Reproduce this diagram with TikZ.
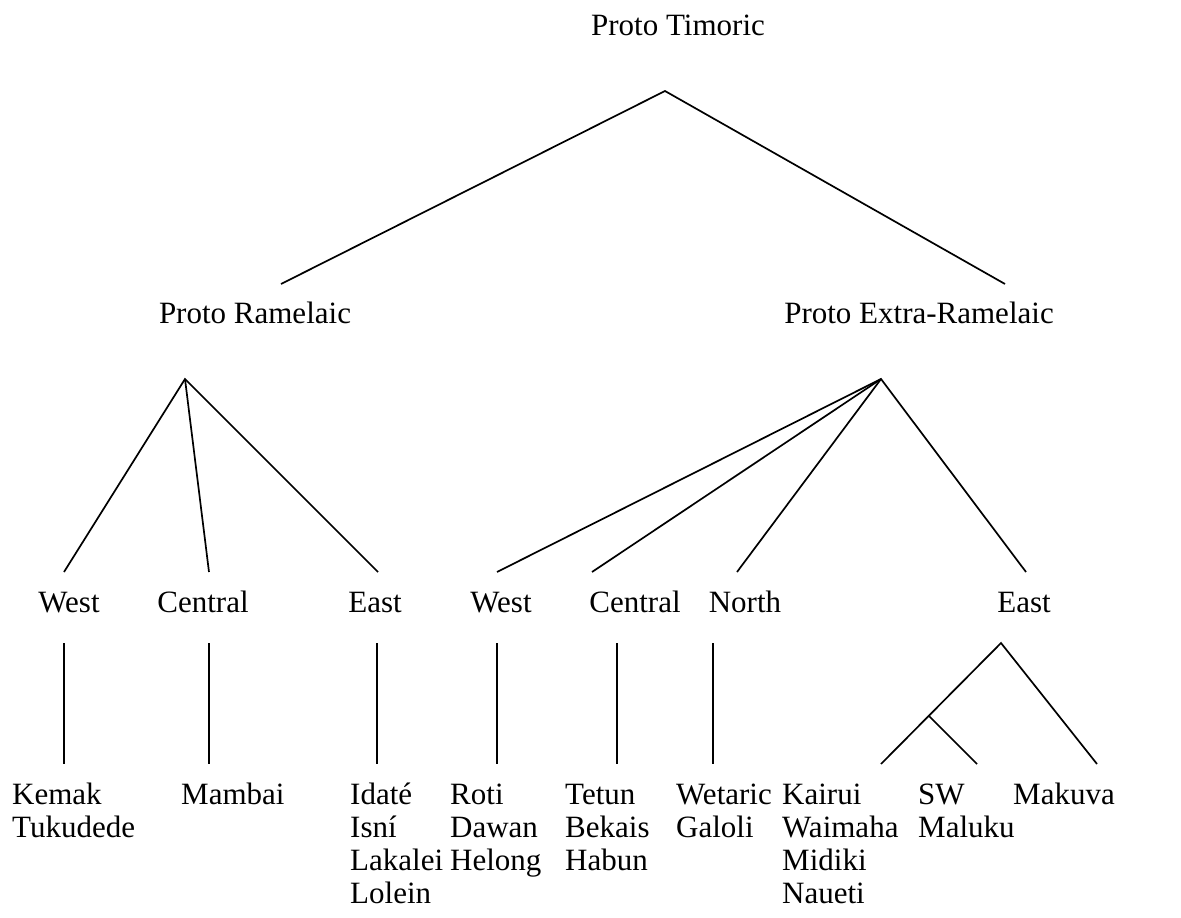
\documentclass[tikz,border=0pt]{standalone}
\usepackage{fontspec}
\setmainfont{Liberation Serif}
\begin{document}
\begin{tikzpicture}[x=1pt,y=-1pt,
  lbl/.style={inner sep=0pt,font=\fontsize{31}{33}\selectfont},
  leaf/.style={lbl,anchor=base west},
  edge/.style={line width=1.7pt,line cap=butt}]
\useasboundingbox (0,0) rectangle (1181,918);
% labels
\node[lbl,anchor=base] (pt) at (678,35) {Proto Timoric};
\node[lbl,anchor=base] (pr) at (255,323) {Proto Ramelaic};
\node[lbl,anchor=base] (per) at (919,323) {Proto Extra-Ramelaic};
\node[lbl,anchor=base] (rw) at (69,612) {West};
\node[lbl,anchor=base] (rc) at (203,612) {Central};
\node[lbl,anchor=base] (re) at (375,612) {East};
\node[lbl,anchor=base] (ew) at (501,612) {West};
\node[lbl,anchor=base] (ec) at (635,612) {Central};
\node[lbl,anchor=base] (en) at (745,612) {North};
\node[lbl,anchor=base] (ee) at (1024,612) {East};
\newcommand{\leaflines}[1]{\begin{tabular}[t]{@{}l@{}}#1\end{tabular}}
\node[leaf] (l1) at (12,804) {\leaflines{Kemak\\Tukudede}};
\node[leaf] (l2) at (181,804) {\leaflines{Mambai}};
\node[leaf] (l3) at (350,804) {\leaflines{Idaté\\Isní\\Lakalei\\Lolein}};
\node[leaf] (l4) at (450,804) {\leaflines{Roti\\Dawan\\Helong}};
\node[leaf] (l5) at (565,804) {\leaflines{Tetun\\Bekais\\Habun}};
\node[leaf] (l6) at (676,804) {\leaflines{Wetaric\\Galoli}};
\node[leaf] (l7) at (782,804) {\leaflines{Kairui\\Waimaha\\Midiki\\Naueti}};
\node[leaf] (l8) at (918,804) {\leaflines{SW\\Maluku}};
\node[leaf] (l9) at (1013,804) {\leaflines{Makuva}};
% junction coordinates
\coordinate (ptA) at (665,91);
\coordinate (prT) at (281,284);
\coordinate (perT) at (1005,284);
\coordinate (prA) at (185,379);
\coordinate (perA) at (881,379);
\coordinate (rwT) at (64,572);
\coordinate (rcT) at (209,572);
\coordinate (reT) at (378,572);
\coordinate (ewT) at (497,572);
\coordinate (ecT) at (592,572);
\coordinate (enT) at (737,572);
\coordinate (eeT) at (1026,572);
\coordinate (rwB) at (64,643);
\coordinate (rcB) at (209,643);
\coordinate (reB) at (377,643);
\coordinate (ewB) at (497,643);
\coordinate (ecB) at (617,643);
\coordinate (enB) at (713,643);
\coordinate (eeA) at (1001,643);
\coordinate (l1T) at (64,764);
\coordinate (l2T) at (209,764);
\coordinate (l3T) at (377,764);
\coordinate (l4T) at (497,764);
\coordinate (l5T) at (617,764);
\coordinate (l6T) at (713,764);
\coordinate (l7T) at (881,764);
\coordinate (l8T) at (977,764);
\coordinate (l9T) at (1097,764);
\coordinate (kwJ) at (929,716);
% connectors
\draw[edge] (prT) -- (ptA) -- (perT);
\draw[edge] (rwT) -- (prA) -- (reT);
\draw[edge] (prA) -- (rcT);
\draw[edge] (ewT) -- (perA) -- (eeT);
\draw[edge] (perA) -- (ecT);
\draw[edge] (perA) -- (enT);
\draw[edge] (rwB) -- (l1T);
\draw[edge] (rcB) -- (l2T);
\draw[edge] (reB) -- (l3T);
\draw[edge] (ewB) -- (l4T);
\draw[edge] (ecB) -- (l5T);
\draw[edge] (enB) -- (l6T);
\draw[edge] (l7T) -- (eeA) -- (l9T);
\draw[edge] (kwJ) -- (l8T);
\end{tikzpicture}
\end{document}
